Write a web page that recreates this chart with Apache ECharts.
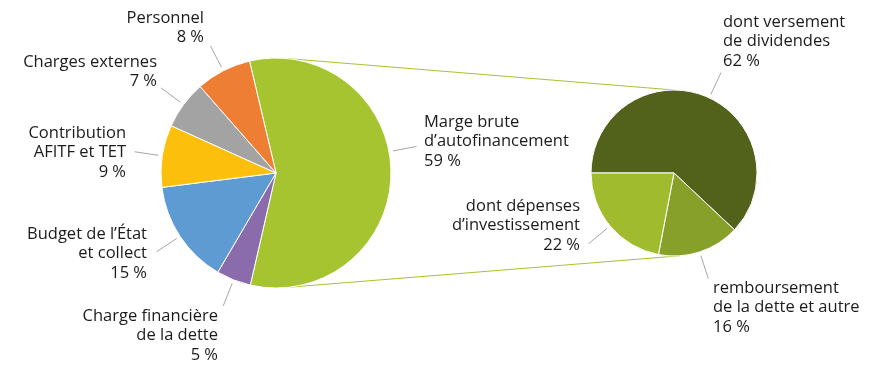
<!DOCTYPE html>
<html>
<head>
<meta charset="utf-8">
<script src="https://cdn.jsdelivr.net/npm/echarts@6/dist/echarts.min.js"></script>
<style>html,body{margin:0;padding:0;background:#fff}#c{width:894px;height:380px}</style>
</head>
<body>
<div id="c"></div>
<script>
// ---- data ----
const mainNames = ['Marge brute\nd\u2019autofinancement', 'Charge financi\u00e8re\nde la dette', 'Budget de l\u2019\u00c9tat\net collect', 'Contribution\nAFITF et TET', 'Charges externes', 'Personnel'];
const mainValues = [59, 5, 15, 9, 7, 8];
const subNames = ['dont versement\nde dividendes', 'remboursement\nde la dette et autre', 'dont d\u00e9penses\nd\u2019investissement'];
const subValues = [62, 16, 22];

// ---- style ----
const mainColors = ['#A6C42F', '#8A6BAC', '#5D9BD2', '#FBBF0C', '#A3A3A3', '#EE7E33'];
const subColors = ['#53621A', '#86A029', '#A0BB2E'];
const mainCenter = [276, 173], mainR = 115, mainStart = 103.3;
const subCenter = [674, 173], subR = 83, subStart = 180;
// label anchor: [x, y(top), align]
const mainLabelPos = [[424, 112, 'left'], [218, 306, 'right'], [147, 224, 'right'], [126, 123, 'right'], [157, 52, 'right'], [204, 8, 'right']];
const subLabelPos = [[723, 12, 'left'], [713, 278, 'left'], [580, 196, 'right']];
const mainLineShift = [10.5, 0, 0, 0, 0, 0];
const subLineShift = [-3.5, 0, 0];
const lineGap = 4, lineLen = 24;
const FONT = 'Open Sans';
const textColor = '#1b1b1b';

function makeLayout(pos, center, r, shift) {
  return function (p) {
    const i = p.dataIndex;
    const a = pos[i];
    const p0 = p.labelLinePoints ? p.labelLinePoints[0] : [center[0] + r, center[1]];
    let ang = Math.atan2(p0[1] - center[1], p0[0] - center[0]);
    ang -= shift[i] * Math.PI / 180;
    const ux = Math.cos(ang), uy = Math.sin(ang);
    return {
      x: a[0], y: a[1], align: a[2], verticalAlign: 'top',
      labelLinePoints: [
        [center[0] + ux * (r + lineGap), center[1] + uy * (r + lineGap)],
        [center[0] + ux * (r + lineGap + lineLen), center[1] + uy * (r + lineGap + lineLen)]
      ]
    };
  };
}

function seriesData(names, values, colors) {
  return names.map((n, i) => ({ name: n, value: values[i], itemStyle: { color: colors[i] } }));
}

const labelStyle = {
  show: true, position: 'outside',
  formatter: p => p.name + '\n' + p.value + '\u00a0%',
  fontFamily: FONT, fontSize: 16.5, lineHeight: 19.8, color: textColor
};

function pt(c, r, deg) {
  const a = deg * Math.PI / 180;
  return [c[0] + r * Math.cos(a), c[1] - r * Math.sin(a)];
}
const connectAngles = { mainTop: 84, mainBottom: -83, subTop: 90, subBottom: -86 };
const t1 = pt(mainCenter, mainR, connectAngles.mainTop), t2 = pt(subCenter, subR, connectAngles.subTop);
const b1 = pt(mainCenter, mainR, connectAngles.mainBottom), b2 = pt(subCenter, subR, connectAngles.subBottom);

const chart = echarts.init(document.getElementById('c'), null, { renderer: 'canvas' });
chart.setOption({
  backgroundColor: '#fff',
  animation: false,
  graphic: [
    { type: 'line', z: 0, shape: { x1: t1[0], y1: t1[1], x2: t2[0], y2: t2[1] }, style: { stroke: '#A6C42F', lineWidth: 1 } },
    { type: 'line', z: 0, shape: { x1: b1[0], y1: b1[1], x2: b2[0], y2: b2[1] }, style: { stroke: '#A6C42F', lineWidth: 1 } }
  ],
  series: [
    {
      type: 'pie', center: mainCenter, radius: mainR, startAngle: mainStart, clockwise: true,
      avoidLabelOverlap: false, minShowLabelAngle: 0,
      itemStyle: { borderColor: '#fff', borderWidth: 1 },
      label: labelStyle,
      labelLine: { show: true, length: 24, length2: 0, lineStyle: { color: '#A6A6A6', width: 1 } },
      labelLayout: makeLayout(mainLabelPos, mainCenter, mainR, mainLineShift),
      emphasis: { disabled: true },
      data: seriesData(mainNames, mainValues, mainColors)
    },
    {
      type: 'pie', center: subCenter, radius: subR, startAngle: subStart, clockwise: true,
      avoidLabelOverlap: false, minShowLabelAngle: 0,
      itemStyle: { borderColor: '#fff', borderWidth: 1 },
      label: labelStyle,
      labelLine: { show: true, length: 24, length2: 0, lineStyle: { color: '#A6A6A6', width: 1 } },
      labelLayout: makeLayout(subLabelPos, subCenter, subR, subLineShift),
      emphasis: { disabled: true },
      data: seriesData(subNames, subValues, subColors)
    }
  ]
});
</script>
</body>
</html>
